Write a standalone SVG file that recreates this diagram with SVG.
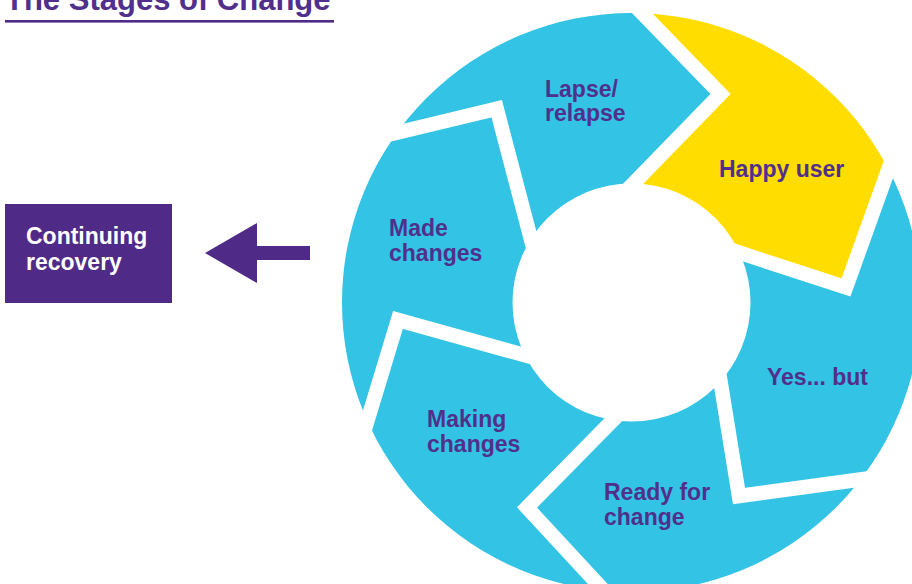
<svg xmlns="http://www.w3.org/2000/svg" width="912" height="584" viewBox="0 0 912 584">
  <style>
    .seg { fill: #33C3E5; }
    .seg.yellow { fill: #FFDD00; }
    .lbl { font-family: "Liberation Sans", Arial, sans-serif; font-weight: 700; font-size: 23px; fill: #51308C; }
    .lbl.white { fill: #FFFFFF; }
    .title { font-family: "Liberation Sans", Arial, sans-serif; font-weight: 700; font-size: 31px; fill: #51308C; }
    .sep { fill: none; stroke: #FFFFFF; stroke-width: 14.5; stroke-linejoin: miter; stroke-miterlimit: 10; }
    .purple { fill: #4F2A87; }
  </style>
  <defs>
    <clipPath id="ring">
      <path clip-rule="evenodd" d="M342,302.5 A289.5,289.5 0 1 1 921,302.5 A289.5,289.5 0 1 1 342,302.5 Z M512.5,302.5 A119,119 0 1 1 750.5,302.5 A119,119 0 1 1 512.5,302.5 Z"/>
    </clipPath>
  </defs>
  <rect x="0" y="0" width="912" height="584" fill="#FFFFFF"/>

  <g id="title">
    <text class="title" x="5" y="9.5">The Stages of Change</text>
    <rect x="5" y="20" width="329" height="2.6" class="purple"/>
  </g>

  <g id="stage-lapse">
    <path class="seg" clip-path="url(#ring)" d="M631.5,302.5 L537.9,265.7 L496.7,108.7 L367.7,139.7 A315,315 0 0 1 618.5,-11.3 L720.5,94 L616.1,201.4 Z"/>
    <text class="lbl" x="545" y="96.5">Lapse/</text>
    <text class="lbl" x="545" y="120.5">relapse</text>
  </g>

  <g id="stage-happy-user">
    <path class="seg yellow" clip-path="url(#ring)" d="M631.5,302.5 L616.1,201.4 L720.5,94 L618.5,-11.3 A315,315 0 0 1 901.3,133.5 L846,287.5 L717.6,245.5 Z"/>
    <text class="lbl" x="719" y="176.5">Happy user</text>
  </g>

  <g id="stage-yes-but">
    <path class="seg" clip-path="url(#ring)" d="M631.5,302.5 L717.6,245.5 L846,287.5 L901.3,133.5 A315,315 0 0 1 897,474.5 L739,496 L716.8,358.6 Z"/>
    <text class="lbl" x="767" y="385">Yes... but</text>
  </g>

  <g id="stage-ready">
    <path class="seg" clip-path="url(#ring)" d="M631.5,302.5 L716.8,358.6 L739,496 L897,474.5 A315,315 0 0 1 626.4,614.9 L527,507.5 L629.6,403.1 Z"/>
    <text class="lbl" x="604" y="500">Ready for</text>
    <text class="lbl" x="604" y="524.5">change</text>
  </g>

  <g id="stage-making-changes">
    <path class="seg" clip-path="url(#ring)" d="M631.5,302.5 L629.6,403.1 L527,507.5 L626.4,614.9 A315,315 0 0 1 358.35,450.65 L398,320 L549.2,362 Z"/>
    <text class="lbl" x="427" y="427">Making</text>
    <text class="lbl" x="427" y="451.5">changes</text>
  </g>

  <g id="stage-made-changes">
    <path class="seg" clip-path="url(#ring)" d="M631.5,302.5 L549.2,362 L398,320 L358.35,450.65 A315,315 0 0 1 367.7,139.7 L496.7,108.7 L537.9,265.7 Z"/>
    <text class="lbl" x="389" y="236">Made</text>
    <text class="lbl" x="389" y="260.5">changes</text>
  </g>

  <g id="separators">
    <polyline class="sep" points="618.5,-11.3 720.5,94 616.1,201.4"/>
    <polyline class="sep" points="901.3,133.5 846,287.5 717.6,245.5"/>
    <polyline class="sep" points="897,474.5 739,496 716.8,358.6"/>
    <polyline class="sep" points="626.4,614.9 527,507.5 629.6,403.1"/>
    <polyline class="sep" points="358.35,450.65 398,320 549.2,362"/>
    <polyline class="sep" points="367.7,139.7 496.7,108.7 537.9,265.7"/>
  </g>

  <g id="continuing-recovery">
    <rect class="purple" x="5" y="204" width="167" height="99"/>
    <text class="lbl white" x="26" y="244">Continuing</text>
    <text class="lbl white" x="26" y="270">recovery</text>
  </g>

  <g id="connectors">
    <polygon class="purple" points="205,253 257,223 257,246 310,246 310,260 257,260 257,283"/>
  </g>
</svg>
